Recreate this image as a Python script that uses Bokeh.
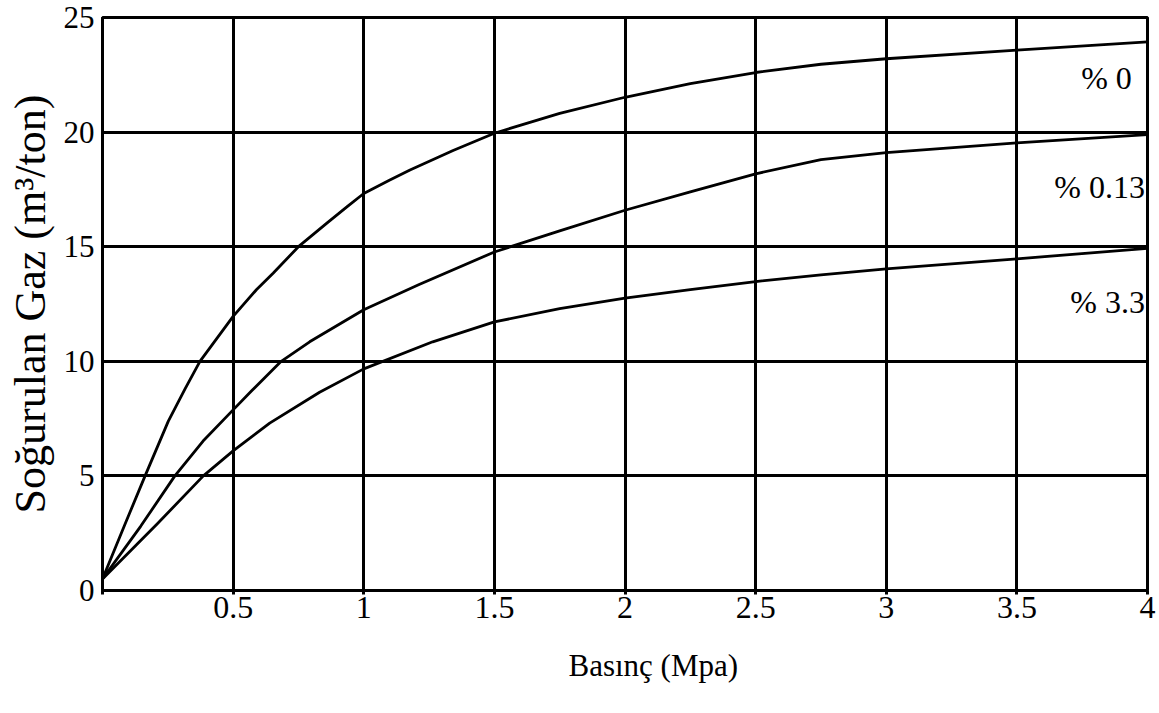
from bokeh.plotting import figure
from bokeh.models import Range1d, FixedTicker, Title
from bokeh.core.properties import value
from bokeh.embed import file_html
from bokeh.resources import INLINE

# Pressure (MPa) and absorbed gas (m3/ton)
x_p0 = [0, 0.09, 0.163, 0.252, 0.316, 0.373, 0.5, 0.589, 0.653, 0.75, 0.86, 0.939, 1.0,
        1.098, 1.177, 1.342, 1.5, 1.75, 2.0, 2.25, 2.5, 2.75, 3.0, 3.5, 4.0]
y_p0 = [0.5, 3.0, 5.0, 7.39, 8.8, 10.0, 11.96, 13.12, 13.84, 15.0, 16.04, 16.77, 17.32,
        17.9, 18.35, 19.2, 19.95, 20.82, 21.52, 22.12, 22.6, 22.96, 23.2, 23.58, 23.94]

x_p013 = [0, 0.146, 0.277, 0.385, 0.5, 0.57, 0.684, 0.793, 1.0, 1.212, 1.5, 1.75, 2.0,
          2.25, 2.5, 2.75, 3.0, 3.5, 4.0]
y_p013 = [0.5, 2.8, 5.0, 6.52, 7.88, 8.7, 10.0, 10.85, 12.25, 13.35, 14.77, 15.69, 16.59,
          17.39, 18.18, 18.8, 19.1, 19.53, 19.89]

x_p33 = [0, 0.209, 0.386, 0.5, 0.64, 0.831, 1.0, 1.264, 1.5, 1.75, 2.0, 2.25, 2.5,
         2.75, 3.0, 3.5, 4.0]
y_p33 = [0.5, 2.9, 5.0, 6.09, 7.3, 8.65, 9.67, 10.85, 11.72, 12.3, 12.76, 13.13, 13.48,
         13.77, 14.03, 14.47, 14.93]

series_labels = ["% 0", "% 0.13", "% 3.3"]
x_ticks = [0, 0.5, 1, 1.5, 2, 2.5, 3, 3.5, 4]
y_ticks = [0, 5, 10, 15, 20, 25]
x_title = "Basınç (Mpa)"
y_title = "Soğurulan Gaz (m³/ton)"

FONT = "Liberation Serif"

p = figure(width=1159, height=713, output_backend="svg", toolbar_location=None,
           x_range=Range1d(0, 4), y_range=Range1d(0, 25),
           min_border_left=102, min_border_right=12, min_border_top=17, min_border_bottom=123,
           background_fill_color="white", border_fill_color="white")

p.outline_line_color = "black"
p.outline_line_width = 3

for g in (p.xgrid, p.ygrid):
    g.grid_line_color = "black"
    g.grid_line_width = 3
    g.grid_line_alpha = 1.0
p.xgrid.ticker = FixedTicker(ticks=x_ticks)
p.ygrid.ticker = FixedTicker(ticks=y_ticks)

p.xaxis.ticker = FixedTicker(ticks=x_ticks)
p.yaxis.ticker = FixedTicker(ticks=y_ticks)
p.xaxis.major_label_overrides = {0: "", 0.5: "0.5", 1: "1", 1.5: "1.5", 2: "2", 2.5: "2.5",
                                 3: "3", 3.5: "3.5", 4: "4"}
p.yaxis.major_label_overrides = {0: "0", 5: "5", 10: "10", 15: "15", 20: "20", 25: "25"}

for ax in (p.xaxis, p.yaxis):
    ax.axis_line_color = "black"
    ax.axis_line_width = 3
    ax.major_tick_line_color = "black"
    ax.major_tick_line_width = 3
    ax.major_tick_in = 0
    ax.minor_tick_line_color = None
    ax.major_label_text_font = FONT
    ax.major_label_text_color = "black"
    ax.axis_label_text_font = FONT
    ax.axis_label_text_font_style = "normal"
    ax.axis_label_text_color = "black"

p.xaxis.major_label_text_font_size = "32px"
p.yaxis.major_label_text_font_size = "31px"
p.xaxis.major_tick_out = 4
p.yaxis.major_tick_out = 0
p.xaxis.major_label_standoff = 2
p.yaxis.major_label_standoff = 8
p.yaxis.axis_label = y_title
p.yaxis.axis_label_text_font_size = "44px"
p.yaxis.axis_label_standoff = 6

for xs, ys in ((x_p0, y_p0), (x_p013, y_p013), (x_p33, y_p33)):
    p.line(xs, ys, line_color="black", line_width=2.8, line_join="round")

label_x = [3.94, 3.99, 3.99]
label_y = [22.35, 17.6, 12.6]
p.text(x=label_x, y=label_y, text=series_labels, text_align="right", text_baseline="middle",
       text_font=value(FONT), text_font_size="32px", text_color="black")

p.add_layout(Title(text=x_title, align="left", offset=466, standoff=54, vertical_align="top",
                   text_font=FONT, text_font_size="31px", text_font_style="normal",
                   text_color="black"), "below")

open("out.html", "w").write(file_html(p, INLINE))
